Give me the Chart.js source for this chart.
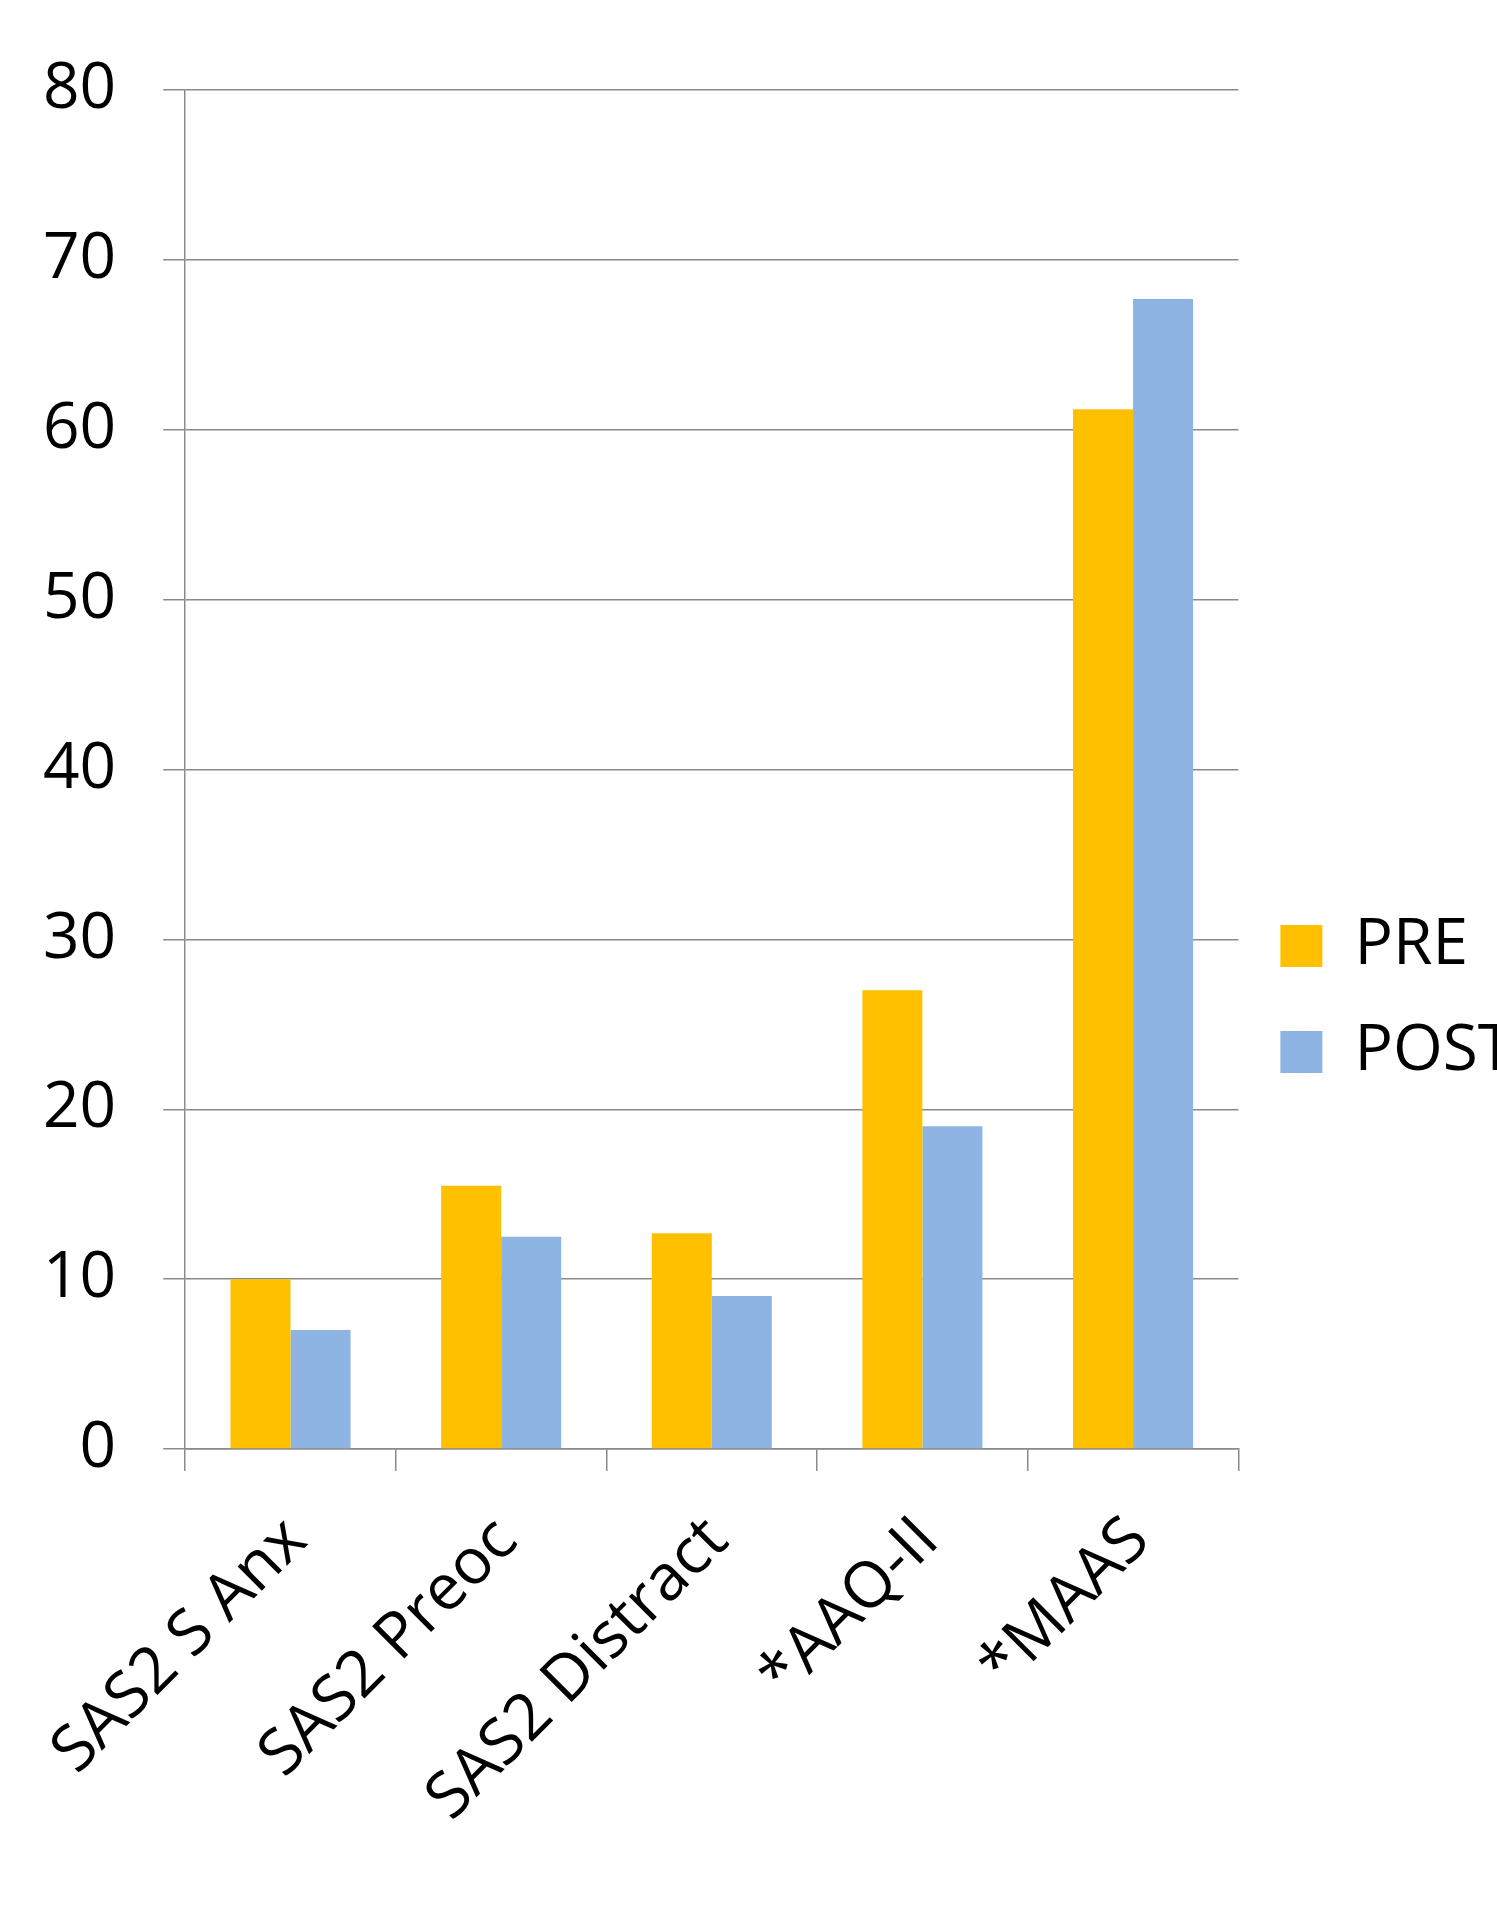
<!DOCTYPE html>
<html>
<head>
<meta charset="utf-8">
<script src="https://cdn.jsdelivr.net/npm/chart.js@4.4.1/dist/chart.umd.min.js"></script>
<style>
  html, body { margin: 0; padding: 0; background: #fff; overflow: hidden; width: 1497px; height: 1913px; }
  #chart { display: block; }
</style>
</head>
<body>
<canvas id="chart" width="1523" height="1908"></canvas>
<script>
// values
const categories = ['SAS2 S Anx', 'SAS2 Preoc', 'SAS2 Distract', '*AAQ-II', '*MAAS'];
const preValues = [10, 15.5, 12.7, 27, 61.2];
const postValues = [7, 12.5, 9, 19, 67.7];
const yTicks = [0, 10, 20, 30, 40, 50, 60, 70, 80];

const font = 'Open Sans';
const gridColor = '#8a8a8a';

const ctx = document.getElementById('chart').getContext('2d');
new Chart(ctx, {
    type: 'bar',
    data: {
        labels: categories,
        datasets: [
            { label: 'PRE', data: preValues, backgroundColor: '#FFC000', borderWidth: 0 },
            { label: 'POST', data: postValues, backgroundColor: '#8EB4E3', borderWidth: 0 }
        ]
    },
    options: {
        responsive: false,
        animation: false,
        devicePixelRatio: 1,
        // left is negative: the rotated first x label already reserves room on the left
        layout: { padding: { left: -4, top: 90, right: 0, bottom: 0 } },
        datasets: { bar: { barPercentage: 1, categoryPercentage: 0.57 } },
        plugins: {
            tooltip: { enabled: false },
            legend: {
                position: 'right',
                labels: {
                    color: '#000',
                    font: { family: font, size: 64 },
                    boxWidth: 42,
                    boxHeight: 42,
                    padding: 42
                }
            }
        },
        scales: {
            x: {
                grid: { drawOnChartArea: false, drawTicks: true, tickLength: 22, color: gridColor, lineWidth: 1.5 },
                border: { color: gridColor, width: 1.5 },
                ticks: {
                    color: '#000',
                    font: { family: font, size: 64 },
                    maxRotation: 45,
                    minRotation: 45,
                    padding: 32,
                    labelOffset: 6
                },
                afterFit: (scale) => { scale.height = 459; }
            },
            y: {
                min: 0,
                max: 80,
                afterBuildTicks: (scale) => { scale.ticks = yTicks.map(v => ({ value: v })); },
                grid: { color: gridColor, lineWidth: 1.5, tickLength: 22 },
                border: { color: gridColor, width: 1.5 },
                ticks: {
                    color: '#000',
                    font: { family: font, size: 64 },
                    padding: 47
                }
            }
        }
    }
});
</script>
</body>
</html>
